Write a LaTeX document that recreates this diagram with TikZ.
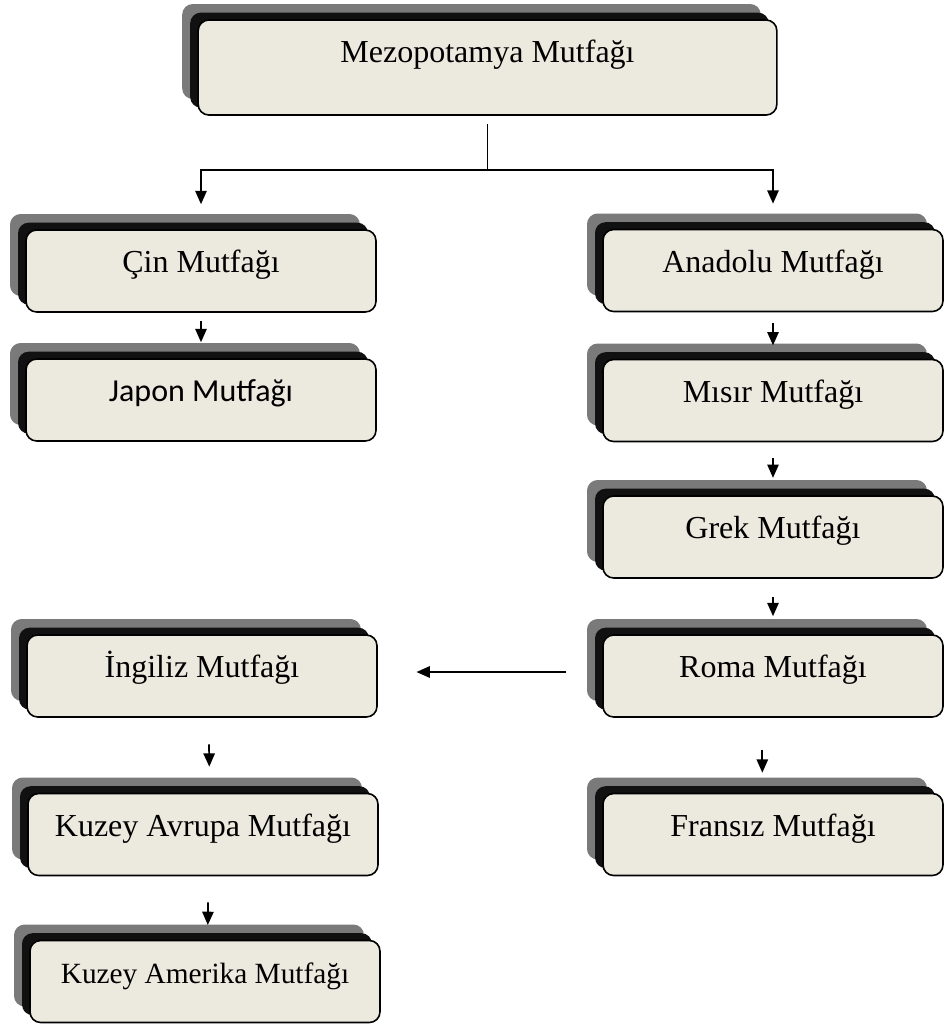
\documentclass[tikz,border=0pt]{standalone}
\usepackage{fontspec}
\setmainfont{Liberation Serif}
\newfontfamily\calibrifont{Carlito}
\usetikzlibrary{arrows.meta,shadows}

\definecolor{boxfill}{RGB}{236,233,223}
\definecolor{shadowgray}{RGB}{122,122,122}
\definecolor{shadowblack}{RGB}{17,17,17}

\tikzset{
  cuisine/.style={draw, line width=1.2pt, fill=boxfill, rounded corners=8pt,
    inner sep=0pt, text height=32pt, text depth=29.5pt,
    font=\fontsize{24}{28}\selectfont,
    general shadow={fill=shadowgray, shadow xshift=-12pt, shadow yshift=12pt},
    general shadow={fill=shadowblack, shadow xshift=-6pt, shadow yshift=5.5pt}},
  leftbox/.style={cuisine, minimum width=262.5pt},
  rightbox/.style={cuisine, minimum width=255pt},
  link/.style={line width=1.3pt, -{Triangle[length=10pt,width=8.5pt]}}
}

\begin{document}
\begin{tikzpicture}[x=0.75pt, y=-0.75pt]
\useasboundingbox (0,0) rectangle (945,1026);

% top
\node[cuisine, minimum width=434pt, text depth=39.25pt] (mez) at (487.5,67.5) {Mezopotamya Mutfağı};

% left column
\node[leftbox] (cin) at (201,271) {Çin Mutfağı};
\node[leftbox, font=\calibrifont\fontsize{24}{28}\selectfont] (japon) at (201,400) {Japon Mutfağı};
\node[leftbox] (ingiliz) at (202,676) {İngiliz Mutfağı};
\node[leftbox] (kavrupa) at (203,834.5) {Kuzey Avrupa Mutfağı};
\node[leftbox, font=\fontsize{22}{26}\selectfont] (kamerika) at (205,981.5) {Kuzey Amerika Mutfağı};

% right column
\node[rightbox] (anadolu) at (773,270.5) {Anadolu Mutfağı};
\node[rightbox] (misir) at (773,400.5) {Mısır Mutfağı};
\node[rightbox] (grek) at (773,537) {Grek Mutfağı};
\node[rightbox] (roma) at (773,676) {Roma Mutfağı};
\node[rightbox] (fransiz) at (773,834.5) {Fransız Mutfağı};

% connectors
\coordinate (fork) at (487.5,170);
\draw[line width=1.3pt, shorten <=6pt] (mez) -- (fork);
\draw[link, shorten >=18.75pt] (fork) -| (cin);
\draw[link, shorten >=18.75pt] (fork) -| (anadolu);

\draw[link, shorten <=6pt, shorten >=12pt] (cin) -- (japon);
\draw[link, shorten <=8pt, shorten >=10pt] (anadolu) -- (misir);
\draw[link, shorten <=12pt, shorten >=13pt] (misir) -- (grek);
\draw[link, shorten <=13.5pt, shorten >=13.5pt] (grek) -- (roma);
\draw[link, shorten <=24pt, shorten >=15pt] ([xshift=-8pt]roma.south) -- ([xshift=-8pt]fransiz.north);
\draw[link, shorten <=27pt, shorten >=29pt] ([yshift=3pt]roma.west) -- ([yshift=3pt]ingiliz.east);
\draw[link, shorten <=20pt, shorten >=19.5pt] ([xshift=5pt]ingiliz.south) -- ([xshift=5pt]kavrupa.north);
\draw[link, shorten <=19.5pt, shorten >=11pt] ([xshift=4pt]kavrupa.south) -- ([xshift=2pt]kamerika.north);
\end{tikzpicture}
\end{document}
